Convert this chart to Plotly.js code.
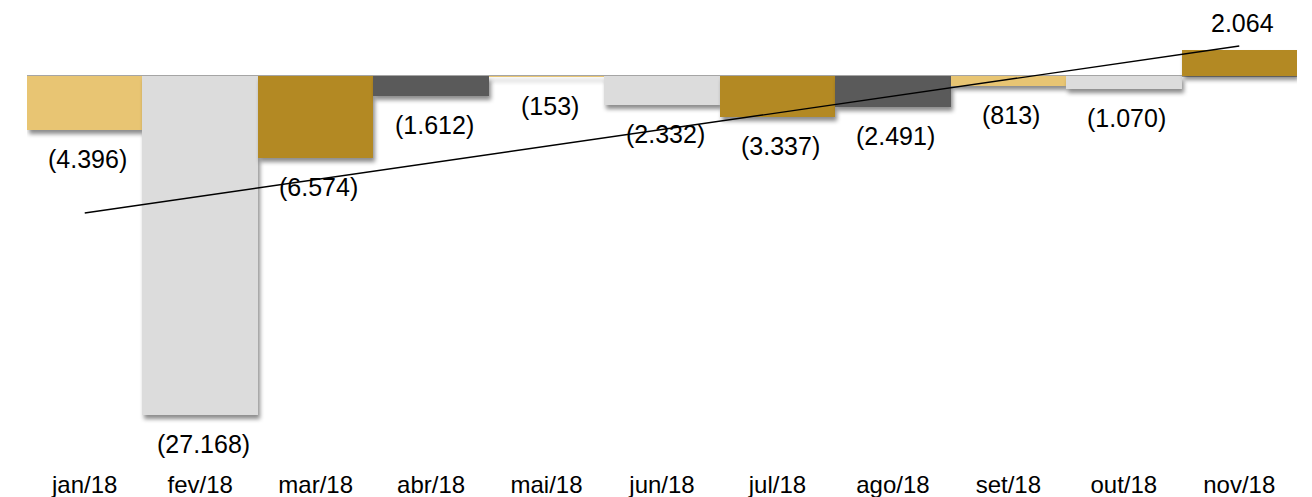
<!DOCTYPE html>
<html>
<head>
<meta charset="utf-8">
<script src="https://cdn.plot.ly/plotly-3.0.1.min.js"></script>
<style>
  html, body { margin: 0; padding: 0; background: #ffffff; }
  #chart { width: 1312px; height: 497px; }
  .barlayer .point path { filter: drop-shadow(2px 4px 2px rgba(0,0,0,0.45)); }
</style>
</head>
<body>
<div id="chart"></div>
<script>
// Data
const months = ['jan/18','fev/18','mar/18','abr/18','mai/18','jun/18','jul/18','ago/18','set/18','out/18','nov/18'];
const values = [-4396, -27168, -6574, -1612, -153, -2332, -3337, -2491, -813, -1070, 2064];
const labels = ['(4.396)','(27.168)','(6.574)','(1.612)','(153)','(2.332)','(3.337)','(2.491)','(813)','(1.070)','2.064'];
const barColors = ['#E8C573','#DCDCDC','#B38923','#5A5A5A','#E8C573','#DCDCDC','#B38923','#5A5A5A','#E8C573','#DCDCDC','#B38923'];
// Trend line endpoints
const trendMonths = ['jan/18','nov/18'];
const trendValues = [-11000, 2360];

const fontFamily = '"Liberation Sans", Arial, Helvetica, sans-serif';

const bars = {
  type: 'bar',
  x: months,
  y: values,
  marker: { color: barColors, line: { width: 0 } },
  hoverinfo: 'x+y',
  showlegend: false
};

const trend = {
  type: 'scatter',
  mode: 'lines',
  x: trendMonths,
  y: trendValues,
  line: { color: '#000000', width: 1.3 },
  hoverinfo: 'skip',
  showlegend: false
};

const annotations = months.map((m, i) => ({
  x: m,
  y: values[i],
  xref: 'x',
  yref: 'y',
  text: labels[i],
  showarrow: false,
  xshift: 3,
  yshift: values[i] < 0 ? -29 : 27,
  font: { family: fontFamily, size: 25, color: '#000000' }
}));

const layout = {
  width: 1312,
  height: 497,
  margin: { l: 27, r: 15, t: 20, b: 29 },
  paper_bgcolor: '#ffffff',
  plot_bgcolor: '#ffffff',
  bargap: 0,
  font: { family: fontFamily, color: '#000000' },
  xaxis: {
    type: 'category',
    showgrid: false,
    zeroline: false,
    showline: false,
    ticks: '',
    tickfont: { family: fontFamily, size: 24, color: '#000000' },
    fixedrange: true
  },
  yaxis: {
    range: [-31400, 4440],
    showgrid: false,
    showticklabels: false,
    ticks: '',
    showline: false,
    zeroline: true,
    zerolinecolor: '#A6A6A6',
    zerolinewidth: 2,
    fixedrange: true
  },
  annotations: annotations
};

Plotly.newPlot('chart', [bars, trend], layout, { displayModeBar: false, staticPlot: true });
</script>
</body>
</html>
